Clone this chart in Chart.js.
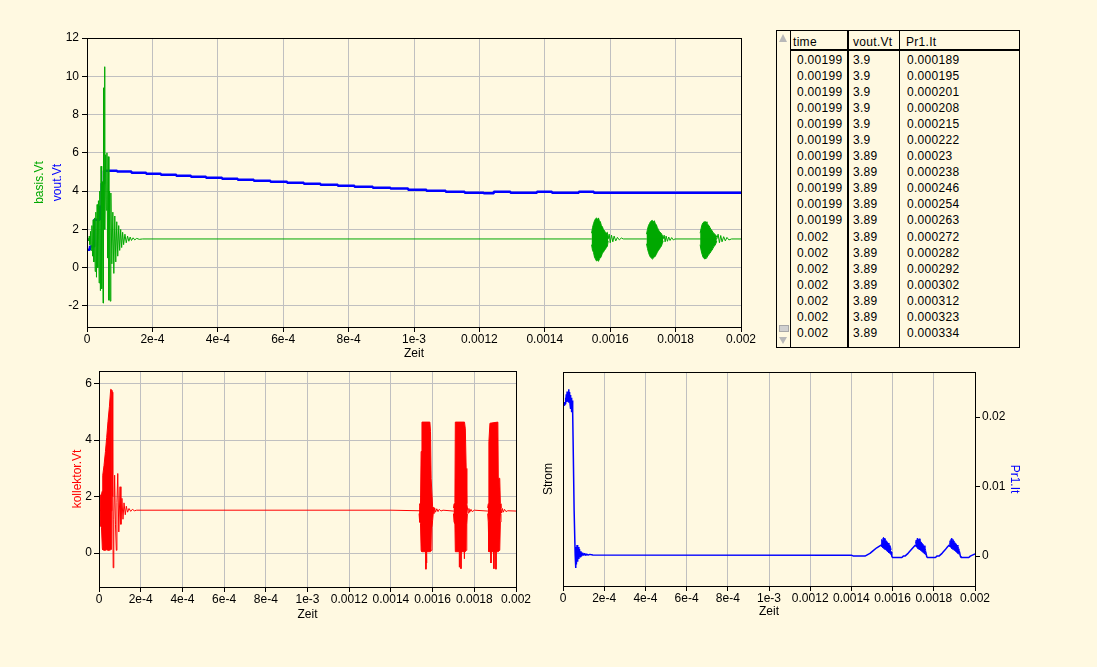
<!DOCTYPE html>
<html>
<head>
<meta charset="utf-8">
<script src="https://cdn.jsdelivr.net/npm/chart.js@4.4.1/dist/chart.umd.min.js"></script>
<style>
  html, body { margin: 0; padding: 0; }
  body { width: 1097px; height: 667px; background: #fff9e1; position: relative; overflow: hidden;
         font-family: "Liberation Sans", Arial, sans-serif; }
  .box { position: absolute; }
  #tbl { position: absolute; left: 776px; top: 30px; width: 244px; height: 318px; box-sizing: border-box;
         border: 1px solid #000; font-size: 12px; color: #000; letter-spacing: 0.3px; }
  #tbl div { position: absolute; }
  .scroll { left: 0; top: 0; width: 13px; height: 100%; border-right: 1px solid #000; }
  .vsep { top: 0; height: 100%; background: #000; }
  .hsep { left: 14px; right: 0; top: 18px; height: 2px; background: #000; }
  .cell { height: 16px; line-height: 16px; white-space: nowrap; }
  .up { left: 2px; top: 3px; width: 0; height: 0; border-left: 4px solid transparent; border-right: 4px solid transparent; border-bottom: 8px solid #b8b8b8; }
  .down { left: 2px; top: 306px; width: 0; height: 0; border-left: 4px solid transparent; border-right: 4px solid transparent; border-top: 7px solid #b8b8b8; }
  .thumb { left: 2px; top: 294px; width: 8px; height: 5px; background: #d0d0d0; border: 1px solid #a8a8a8; }
</style>
</head>
<body>
<div class="box" style="left:0;top:0;width:760px;height:370px"><canvas id="topChart" width="760" height="370"></canvas></div>
<div class="box" style="left:0;top:360px;width:540px;height:270px"><canvas id="kollChart" width="540" height="270"></canvas></div>
<div class="box" style="left:530px;top:360px;width:567px;height:270px"><canvas id="stromChart" width="567" height="270"></canvas></div>
<div id="tbl"></div>
<script>
// time axis shared by all three diagrams
const timeTicks = [0, 2e-4, 4e-4, 6e-4, 8e-4, 1e-3, 1.2e-3, 1.4e-3, 1.6e-3, 1.8e-3, 2e-3];
const timeTickLabels = ['0', '2e-4', '4e-4', '6e-4', '8e-4', '1e-3', '0.0012', '0.0014', '0.0016', '0.0018', '0.002'];

const topYTicks = [-2, 0, 2, 4, 6, 8, 10, 12];
const kollYTicks = [0, 2, 4, 6];
const stromYTicks = [0, 0.01, 0.02];
const stromYTickLabels = ['0', '0.01', '0.02'];

// vout.Vt, stepped (value holds until next point)
const voutLine = [
  [0, 0.94], [9e-6, 1.1], [2.2e-5, 2.5], [3.9e-5, 3.2], [4.5e-5, 4.4], [5.2e-5, 5.07],
  [9.2e-5, 5.02], [1.36e-4, 4.96], [1.81e-4, 4.91], [2.26e-4, 4.86], [2.73e-4, 4.80], [3.18e-4, 4.75],
  [3.64e-4, 4.70], [4.13e-4, 4.65], [4.61e-4, 4.60], [5.10e-4, 4.54], [5.61e-4, 4.49], [6.12e-4, 4.44],
  [6.63e-4, 4.39], [7.14e-4, 4.33], [7.67e-4, 4.28], [8.18e-4, 4.23], [8.74e-4, 4.18], [9.28e-4, 4.13],
  [9.82e-4, 4.07], [1.038e-3, 4.02], [1.097e-3, 3.97], [1.155e-3, 3.92], [1.213e-3, 3.89], [1.244e-3, 3.97],
  [1.295e-3, 3.92], [1.376e-3, 3.97], [1.422e-3, 3.92], [1.504e-3, 3.97], [1.55e-3, 3.92], [2e-3, 3.92]
];

// basis.Vt
const basisLine = [
  [0, 1.5], [3e-6, 1.55], [5e-6, 1.4], [7e-6, 1.65], [9e-6, 1.2], [1.1e-5, 1.9], [1.3e-5, 0.9],
  [1.5e-5, 2.2], [1.7e-5, 0.6], [1.9e-5, 2.5], [2.1e-5, 0.3], [2.3e-5, 2.6], [2.5e-5, -0.2],
  [2.7e-5, 2.9], [2.9e-5, -0.5], [3.1e-5, 3.3], [3.3e-5, 0.0], [3.5e-5, 3.5], [3.7e-5, -0.8],
  [3.9e-5, 4.0], [4.1e-5, -1.2], [4.3e-5, 5.3], [4.5e-5, -1.1], [4.7e-5, 4.5], [4.9e-5, -1.85],
  [5.05e-5, 9.4], [5.2e-5, 2.5], [5.35e-5, 10.5], [5.5e-5, 2.0], [5.7e-5, 5.9], [5.9e-5, 3.0],
  [6.1e-5, 6.0], [6.3e-5, 0.5], [6.5e-5, 5.8], [6.7e-5, -1.7], [6.9e-5, 4.0], [7.1e-5, -1.75],
  [7.3e-5, 3.9], [7.6e-5, 0.2], [7.9e-5, 2.9], [8.2e-5, -0.3], [8.5e-5, 2.7], [8.8e-5, 0.3],
  [9.1e-5, 2.4], [9.4e-5, 0.6], [9.7e-5, 2.2], [1.0e-4, 0.9], [1.03e-4, 2.0], [1.06e-4, 1.05],
  [1.09e-4, 1.85], [1.12e-4, 1.2], [1.16e-4, 1.75], [1.2e-4, 1.3], [1.24e-4, 1.65], [1.28e-4, 1.38],
  [1.32e-4, 1.6], [1.36e-4, 1.42], [1.41e-4, 1.56], [1.46e-4, 1.45], [1.52e-4, 1.53], [1.6e-4, 1.48],
  [1.7e-4, 1.5], [1.543e-3, 1.5], [1.594e-3, 1.5],
  [1.597e-3, 1.75], [1.600e-3, 1.3], [1.604e-3, 1.7], [1.608e-3, 1.35], [1.612e-3, 1.65], [1.617e-3, 1.4],
  [1.622e-3, 1.58], [1.628e-3, 1.45], [1.634e-3, 1.55], [1.640e-3, 1.5],
  [1.711e-3, 1.5], [1.762e-3, 1.5],
  [1.765e-3, 1.7], [1.768e-3, 1.35], [1.771e-3, 1.65], [1.775e-3, 1.38], [1.779e-3, 1.6], [1.783e-3, 1.42],
  [1.788e-3, 1.57], [1.793e-3, 1.45], [1.798e-3, 1.5],
  [1.875e-3, 1.5], [1.926e-3, 1.5],
  [1.930e-3, 1.75], [1.934e-3, 1.3], [1.938e-3, 1.68], [1.942e-3, 1.35], [1.947e-3, 1.62], [1.952e-3, 1.4],
  [1.957e-3, 1.58], [1.963e-3, 1.45], [1.971e-3, 1.5], [2e-3, 1.5]
];
// basis.Vt bursts: [time, upper, lower], null rows split the bursts
const basisBursts = [
  [1.543e-3, 1.8, 1.2], [1.546e-3, 2.1, 0.9], [1.549e-3, 2.3, 0.8], [1.552e-3, 2.45, 0.55],
  [1.555e-3, 2.55, 0.45], [1.558e-3, 2.6, 0.35], [1.561e-3, 2.5, 0.4], [1.564e-3, 2.6, 0.33],
  [1.567e-3, 2.45, 0.45], [1.570e-3, 2.4, 0.5], [1.573e-3, 2.2, 0.6], [1.576e-3, 2.15, 0.75],
  [1.579e-3, 2.0, 0.8], [1.582e-3, 1.95, 0.9], [1.585e-3, 1.85, 0.95], [1.588e-3, 1.8, 1.05],
  [1.591e-3, 1.85, 1.1], [1.594e-3, 1.6, 1.4],
  [1.6e-3, null, null],
  [1.711e-3, 1.75, 1.25], [1.714e-3, 2.0, 1.0], [1.717e-3, 2.2, 0.8], [1.720e-3, 2.3, 0.65],
  [1.723e-3, 2.4, 0.55], [1.726e-3, 2.45, 0.5], [1.729e-3, 2.47, 0.45], [1.732e-3, 2.4, 0.5],
  [1.735e-3, 2.45, 0.55], [1.738e-3, 2.3, 0.6], [1.741e-3, 2.25, 0.7], [1.744e-3, 2.1, 0.8],
  [1.747e-3, 2.0, 0.9], [1.750e-3, 1.9, 0.95], [1.753e-3, 1.85, 1.05], [1.756e-3, 1.8, 1.1],
  [1.759e-3, 1.7, 1.25], [1.762e-3, 1.6, 1.4],
  [1.8e-3, null, null],
  [1.875e-3, 1.8, 1.2], [1.878e-3, 2.05, 0.9], [1.881e-3, 2.25, 0.7], [1.884e-3, 2.35, 0.55],
  [1.887e-3, 2.4, 0.48], [1.890e-3, 2.38, 0.45], [1.893e-3, 2.4, 0.5], [1.896e-3, 2.3, 0.55],
  [1.899e-3, 2.25, 0.62], [1.902e-3, 2.2, 0.7], [1.905e-3, 2.1, 0.75], [1.908e-3, 2.0, 0.85],
  [1.911e-3, 1.95, 0.9], [1.914e-3, 1.85, 1.0], [1.917e-3, 1.8, 1.1], [1.920e-3, 1.75, 1.15],
  [1.923e-3, 1.7, 1.25], [1.926e-3, 1.6, 1.4]
];

// kollektor.Vt
const kollLine = [
  [0, 1.5], [3e-6, 1.6], [5e-6, 1.5], [6.2e-5, 1.5], [6.2e-5, 5.77], [6.4e-5, 5.7], [6.6e-5, 2.0],
  [6.8e-5, -0.52], [7.1e-5, 1.2], [7.5e-5, 2.76], [7.9e-5, 1.0], [8.3e-5, 0.1], [8.6e-5, 1.8],
  [9.0e-5, 2.82], [9.5e-5, 0.75], [1.01e-4, 2.35], [1.05e-4, 1.02], [1.1e-4, 1.94], [1.15e-4, 1.2],
  [1.2e-4, 1.78], [1.26e-4, 1.36], [1.31e-4, 1.66], [1.37e-4, 1.45], [1.44e-4, 1.58], [1.52e-4, 1.48],
  [1.6e-4, 1.55], [1.7e-4, 1.5], [1.8e-4, 1.52], [1.4e-3, 1.52], [1.535e-3, 1.5],
  [1.568e-3, 1.5], [1.568e-3, -0.57], [1.569e-3, 1.5], [1.571e-3, -0.35], [1.572e-3, 1.5],
  [1.603e-3, 1.62], [1.606e-3, 1.4], [1.61e-3, 1.6], [1.614e-3, 1.45], [1.62e-3, 1.57], [1.626e-3, 1.47],
  [1.632e-3, 1.55], [1.64e-3, 1.49], [1.65e-3, 1.52], [1.70e-3, 1.49],
  [1.728e-3, 1.5], [1.728e-3, -0.5], [1.729e-3, 1.5], [1.736e-3, 1.5], [1.736e-3, -0.55], [1.737e-3, 1.5],
  [1.752e-3, 1.5], [1.752e-3, -0.2], [1.753e-3, 1.5],
  [1.767e-3, 1.6], [1.770e-3, 1.42], [1.774e-3, 1.58], [1.778e-3, 1.45], [1.784e-3, 1.55], [1.79e-3, 1.47],
  [1.8e-3, 1.52], [1.864e-3, 1.49],
  [1.880e-3, 1.5], [1.880e-3, -0.35], [1.881e-3, 1.5], [1.894e-3, 1.5], [1.894e-3, -0.55], [1.895e-3, 1.5],
  [1.904e-3, 1.5], [1.904e-3, -0.57], [1.905e-3, 1.5],
  [1.928e-3, 1.6], [1.931e-3, 1.42], [1.935e-3, 1.58], [1.939e-3, 1.45], [1.945e-3, 1.55], [1.952e-3, 1.47],
  [1.96e-3, 1.5], [2e-3, 1.49]
];
// kollektor.Vt dense oscillation blocks: [time, upper, lower]
const kollBursts = [
  [5e-6, 2.0, 1.0], [1.2e-5, 2.1, 0.9], [1.6e-5, 2.2, 0.17], [1.8e-5, 2.76, 0.12], [2.4e-5, 3.1, 0.1],
  [3.1e-5, 3.6, 0.1], [3.7e-5, 4.1, 0.12], [4.3e-5, 4.65, 0.1], [5.0e-5, 5.2, 0.1], [5.6e-5, 5.8, 0.12],
  [6.2e-5, 5.77, 0.15],
  [1e-4, null, null],
  [1.535e-3, 1.6, 1.4], [1.538e-3, 1.75, 1.1], [1.542e-3, 1.7, 1.05], [1.545e-3, 3.6, 0.1],
  [1.549e-3, 4.64, 0.05], [1.587e-3, 4.64, 0.05], [1.590e-3, 4.3, 0.05], [1.593e-3, 2.65, 0.1],
  [1.597e-3, 2.65, 0.9], [1.600e-3, 1.65, 1.15], [1.603e-3, 1.6, 1.4],
  [1.65e-3, null, null],
  [1.700e-3, 1.6, 1.4], [1.703e-3, 1.75, 1.1], [1.707e-3, 1.8, 1.05], [1.709e-3, 4.64, 0.05],
  [1.753e-3, 4.64, 0.05], [1.757e-3, 4.4, 0.05], [1.761e-3, 3.0, 0.1], [1.764e-3, 1.75, 1.0],
  [1.767e-3, 1.6, 1.4],
  [1.8e-3, null, null],
  [1.864e-3, 1.6, 1.4], [1.867e-3, 1.75, 1.1], [1.870e-3, 3.95, 0.05], [1.875e-3, 4.6, 0.05],
  [1.913e-3, 4.64, 0.05], [1.915e-3, 2.65, 0.05], [1.922e-3, 2.65, 0.1], [1.925e-3, 1.75, 1.1],
  [1.928e-3, 1.6, 1.4]
];

// Pr1.It
const stromLine = [
  [0, 0.0218], [3e-6, 0.0219], [6e-6, 0.0217], [8e-6, 0.0222], [1.0e-5, 0.0219], [1.2e-5, 0.0228],
  [1.4e-5, 0.0220], [1.6e-5, 0.0233], [1.8e-5, 0.0222], [2.0e-5, 0.0237], [2.2e-5, 0.0225],
  [2.4e-5, 0.0235], [2.6e-5, 0.0222], [2.8e-5, 0.0240], [3.0e-5, 0.0226], [3.2e-5, 0.0236],
  [3.4e-5, 0.0219], [3.6e-5, 0.0232], [3.8e-5, 0.0212], [4.0e-5, 0.0228], [4.2e-5, 0.0207],
  [4.4e-5, 0.0224], [4.7e-5, 0.0206], [4.9e-5, 0.0167], [5.2e-5, 0.0167], [5.4e-5, 0.0066],
  [5.7e-5, 0.0066], [5.9e-5, 0.0002], [6.1e-5, -0.0017], [6.3e-5, 0.0013], [6.5e-5, -0.0012],
  [6.8e-5, 0.0016], [7.1e-5, -0.0008], [7.4e-5, 0.0013], [7.7e-5, -0.0004], [8.0e-5, 0.0010],
  [8.3e-5, -0.0001], [8.7e-5, 0.0007], [9.1e-5, 0.0], [9.5e-5, 0.0005], [1.0e-4, 0.0001],
  [1.05e-4, 0.0004], [1.1e-4, 0.0001], [1.15e-4, 0.0003], [1.22e-4, 0.00015], [1.3e-4, 0.00025],
  [1.45e-4, 0.00015], [1.40e-3, 0.00014], [1.41e-3, 0.0], [1.466e-3, 0.0], [1.49e-3, 0.0004],
  [1.506e-3, 0.0008], [1.523e-3, 0.0012], [1.544e-3, 0.0016], [1.593e-3, 0.0006], [1.596e-3, 0.0],
  [1.600e-3, -0.0002], [1.645e-3, -0.0002], [1.652e-3, 0.0], [1.660e-3, 0.0], [1.675e-3, 0.0004],
  [1.690e-3, 0.0009], [1.702e-3, 0.0013], [1.711e-3, 0.0016], [1.761e-3, 0.0006], [1.765e-3, 0.0],
  [1.768e-3, -0.0002], [1.808e-3, -0.0002], [1.815e-3, 0.0], [1.825e-3, 0.0], [1.84e-3, 0.0004],
  [1.855e-3, 0.0009], [1.866e-3, 0.0013], [1.875e-3, 0.0016], [1.925e-3, 0.0006], [1.929e-3, 0.0],
  [1.932e-3, -0.0002], [1.97e-3, -0.0002], [1.977e-3, 0.0], [1.99e-3, 0.00019], [2e-3, 0.000334]
];
const stromBursts = [
  [1.544e-3, 0.0018, 0.0015], [1.547e-3, 0.0024, 0.0014], [1.550e-3, 0.0022, 0.0013],
  [1.553e-3, 0.0026, 0.0012], [1.556e-3, 0.0027, 0.0012], [1.559e-3, 0.0025, 0.0010],
  [1.562e-3, 0.0026, 0.0011], [1.566e-3, 0.0023, 0.0009], [1.570e-3, 0.0022, 0.0008],
  [1.574e-3, 0.0020, 0.0007], [1.578e-3, 0.0019, 0.0006], [1.582e-3, 0.0017, 0.0005],
  [1.586e-3, 0.0016, 0.0004], [1.590e-3, 0.0013, 0.0003], [1.593e-3, 0.0009, 0.0002],
  [1.65e-3, null, null],
  [1.711e-3, 0.0018, 0.0015], [1.714e-3, 0.0023, 0.0014], [1.717e-3, 0.0021, 0.0013],
  [1.720e-3, 0.0026, 0.0012], [1.723e-3, 0.0026, 0.0011], [1.726e-3, 0.0024, 0.0010],
  [1.729e-3, 0.0025, 0.0010], [1.733e-3, 0.0022, 0.0009], [1.737e-3, 0.0021, 0.0008],
  [1.741e-3, 0.0019, 0.0007], [1.745e-3, 0.0018, 0.0006], [1.749e-3, 0.0016, 0.0005],
  [1.753e-3, 0.0015, 0.0004], [1.757e-3, 0.0012, 0.0003], [1.761e-3, 0.0008, 0.0002],
  [1.8e-3, null, null],
  [1.875e-3, 0.0018, 0.0015], [1.878e-3, 0.0022, 0.0014], [1.881e-3, 0.0021, 0.0013],
  [1.884e-3, 0.0025, 0.0012], [1.887e-3, 0.0026, 0.0011], [1.890e-3, 0.0023, 0.0010],
  [1.893e-3, 0.0024, 0.0010], [1.897e-3, 0.0022, 0.0009], [1.901e-3, 0.0020, 0.0008],
  [1.905e-3, 0.0019, 0.0007], [1.909e-3, 0.0017, 0.0006], [1.913e-3, 0.0016, 0.0005],
  [1.917e-3, 0.0014, 0.0004], [1.921e-3, 0.0011, 0.0003], [1.925e-3, 0.0008, 0.0002]
];

// table beside the top diagram
const tableHeader = ['time', 'vout.Vt', 'Pr1.It'];
const tableTime = ['0.00199', '0.00199', '0.00199', '0.00199', '0.00199', '0.00199', '0.00199', '0.00199',
  '0.00199', '0.00199', '0.00199', '0.002', '0.002', '0.002', '0.002', '0.002', '0.002', '0.002'];
const tableVout = ['3.9', '3.9', '3.9', '3.9', '3.9', '3.9', '3.89', '3.89', '3.89', '3.89', '3.89', '3.89',
  '3.89', '3.89', '3.89', '3.89', '3.89', '3.89'];
const tablePr1 = ['0.000189', '0.000195', '0.000201', '0.000208', '0.000215', '0.000222', '0.00023',
  '0.000238', '0.000246', '0.000254', '0.000263', '0.000272', '0.000282', '0.000292', '0.000302',
  '0.000312', '0.000323', '0.000334'];

const GREEN = '#00a800', BLUE = '#0000ff', RED = '#ff0000';
Chart.defaults.font.family = '"Liberation Sans", Arial, sans-serif';
Chart.defaults.font.size = 12;
Chart.defaults.color = '#000';

const gridOpts = { color: '#c0c0c0', lineWidth: 1, tickColor: '#000', tickLength: 5 };

function timeAxis(height, titleBottom) {
  return {
    type: 'linear', min: 0, max: 0.002,
    afterBuildTicks: s => { s.ticks = timeTicks.map(v => ({ value: v })); },
    afterFit: s => { s.height = height; },
    ticks: { autoSkip: false, maxRotation: 0, minRotation: 0, padding: 2,
             font: { size: 12, lineHeight: 1 }, callback: (v, i) => timeTickLabels[i] },
    grid: gridOpts,
    border: { display: false },
    title: { display: true, text: 'Zeit', padding: { top: 0, bottom: titleBottom } }
  };
}

function line(data, color, width, extra) {
  return Object.assign({ data: data, borderColor: color, backgroundColor: color, borderWidth: width,
    pointRadius: 0, tension: 0, fill: false, borderJoinStyle: 'bevel' }, extra || {});
}

const frame = {
  id: 'frame',
  afterDatasetsDraw(chart) {
    const { ctx, chartArea: a } = chart;
    ctx.save();
    ctx.strokeStyle = '#000';
    ctx.lineWidth = 1;
    ctx.strokeRect(Math.round(a.left) + 0.5, Math.round(a.top) + 0.5,
                   Math.round(a.right - a.left), Math.round(a.bottom - a.top));
    ctx.restore();
  }
};

const sideLabels = {
  id: 'sideLabels',
  afterDraw(chart, args, opts) {
    const ctx = chart.ctx;
    const cy = (chart.chartArea.top + chart.chartArea.bottom) / 2;
    (opts.items || []).forEach(it => {
      ctx.save();
      ctx.translate(it.x, cy);
      ctx.rotate(-Math.PI / 2);
      ctx.font = '12px "Liberation Sans", Arial, sans-serif';
      ctx.fillStyle = it.color;
      ctx.textAlign = 'center';
      ctx.textBaseline = 'middle';
      ctx.fillText(it.text, 0, 0);
      ctx.restore();
    });
  }
};

const base = { responsive: false, animation: false, events: [] };

// top: basis.Vt and vout.Vt
new Chart(document.getElementById('topChart'), {
  type: 'line',
  data: { datasets: [
    line(basisLine, GREEN, 1),
    line(basisBursts.map(r => [r[0], r[1]]), GREEN, 1, { fill: '+1' }),
    line(basisBursts.map(r => [r[0], r[2]]), GREEN, 1),
    line(voutLine, BLUE, 2.5, { stepped: true })
  ] },
  options: Object.assign({}, base, {
    layout: { padding: { top: 38, right: 19, left: 0, bottom: 0 } },
    plugins: { legend: { display: false }, tooltip: { enabled: false },
      sideLabels: { items: [ { text: 'basis.Vt', color: GREEN, x: 40 }, { text: 'vout.Vt', color: BLUE, x: 58 } ] } },
    scales: {
      x: timeAxis(43, 9),
      y: {
        type: 'linear', min: -3.1, max: 12,
        afterBuildTicks: s => { s.ticks = topYTicks.map(v => ({ value: v })); },
        afterFit: s => { s.width = 87; },
        ticks: { padding: 3, callback: v => String(v) },
        grid: gridOpts,
        border: { display: false }
      }
    }
  }),
  plugins: [frame, sideLabels]
});

// bottom left: kollektor.Vt
new Chart(document.getElementById('kollChart'), {
  type: 'line',
  data: { datasets: [
    line(kollLine, RED, 1),
    line(kollBursts.map(r => [r[0], r[1]]), RED, 1, { fill: '+1' }),
    line(kollBursts.map(r => [r[0], r[2]]), RED, 1)
  ] },
  options: Object.assign({}, base, {
    layout: { padding: { top: 11, right: 24, left: 0, bottom: 0 } },
    plugins: { legend: { display: false }, tooltip: { enabled: false } },
    scales: {
      x: timeAxis(43, 8),
      y: {
        type: 'linear', min: -1.2, max: 6.45,
        afterBuildTicks: s => { s.ticks = kollYTicks.map(v => ({ value: v })); },
        afterFit: s => { s.width = 99; },
        ticks: { padding: 2, callback: v => String(v) },
        grid: gridOpts,
        border: { display: false },
        title: { display: true, text: 'kollektor.Vt', color: RED, padding: { top: 70, bottom: 0 } }
      }
    }
  }),
  plugins: [frame]
});

// bottom right: Pr1.It
new Chart(document.getElementById('stromChart'), {
  type: 'line',
  data: { datasets: [
    line(stromLine, BLUE, 1.5, { yAxisID: 'y1' }),
    line(stromBursts.map(r => [r[0], r[1]]), BLUE, 1, { yAxisID: 'y1', fill: '+1' }),
    line(stromBursts.map(r => [r[0], r[2]]), BLUE, 1, { yAxisID: 'y1' })
  ] },
  options: Object.assign({}, base, {
    layout: { padding: { top: 12, right: 0, left: 0, bottom: 0 } },
    plugins: { legend: { display: false }, tooltip: { enabled: false } },
    scales: {
      x: timeAxis(44, 11),
      y: {
        type: 'linear', position: 'left', min: -0.0043, max: 0.0265,
        afterFit: s => { s.width = 33; },
        ticks: { display: false },
        grid: { display: false },
        border: { display: false },
        title: { display: true, text: 'Strom', padding: { top: 11, bottom: 0 } }
      },
      y1: {
        type: 'linear', position: 'right', min: -0.0043, max: 0.0265,
        afterBuildTicks: s => { s.ticks = stromYTicks.map(v => ({ value: v })); },
        afterFit: s => { s.width = 122; },
        ticks: { padding: 2, callback: (v, i) => stromYTickLabels[i] },
        grid: Object.assign({}, gridOpts, { drawOnChartArea: false }),
        border: { display: false },
        title: { display: true, text: 'Pr1.It', color: BLUE, padding: { top: 75, bottom: 0 } }
      }
    }
  }),
  plugins: [frame]
});

// build the value table
(function () {
  const t = document.getElementById('tbl');
  const add = (cls, style, text) => {
    const d = document.createElement('div');
    d.className = cls;
    d.setAttribute('style', style);
    if (text !== undefined) d.textContent = text;
    t.appendChild(d);
  };
  add('scroll', '');
  add('up', '');
  add('thumb', '');
  add('down', '');
  add('vsep', 'left:70px;width:2px');
  add('vsep', 'left:122px;width:1px');
  add('hsep', '');
  const headLeft = [16, 76, 129];
  tableHeader.forEach((h, i) => add('cell', 'top:3px;left:' + headLeft[i] + 'px', h));
  const colLeft = [20, 76, 130];
  tableTime.forEach((v, r) => {
    const top = (20.8 + 16.06 * r).toFixed(1);
    [tableTime[r], tableVout[r], tablePr1[r]].forEach((txt, c) =>
      add('cell', 'top:' + top + 'px;left:' + colLeft[c] + 'px', txt));
  });
})();
</script>
</body>
</html>
